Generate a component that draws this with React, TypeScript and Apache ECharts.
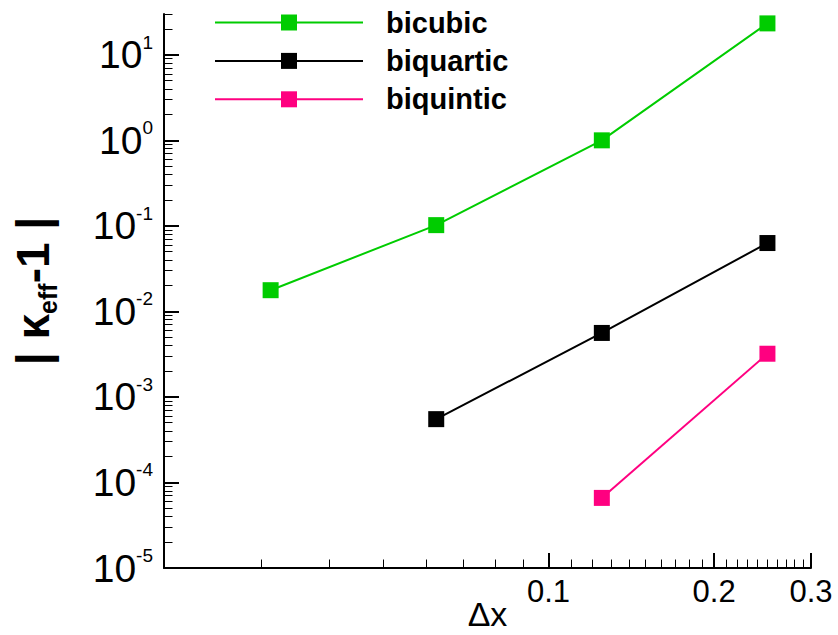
import { useEffect, useRef } from 'react';
import * as echarts from 'echarts';

const seriesNames = ['bicubic', 'biquartic', 'biquintic'];
const seriesColors = ['#00cc00', '#000000', '#ff0080'];

const bicubicX = [0.03125, 0.0625, 0.125, 0.25];
const bicubicY = [0.0177, 0.102, 1.0, 23.3];
const biquarticX = [0.0625, 0.125, 0.25];
const biquarticY = [0.00055, 0.0056, 0.063];
const biquinticX = [0.125, 0.25];
const biquinticY = [0.000066, 0.0032];

const xMajorTicks = [0.1, 0.2, 0.3];
const xMinorTicks = [
  0.03, 0.04, 0.05, 0.06, 0.07, 0.08, 0.09,
  0.11, 0.12, 0.13, 0.14, 0.15, 0.16, 0.17, 0.18, 0.19,
  0.21, 0.22, 0.23, 0.24, 0.25, 0.26, 0.27, 0.28, 0.29,
];
const yMajorTicks = [1e-5, 1e-4, 1e-3, 1e-2, 1e-1, 1, 10];
const yMinorTicks = [
  2e-5, 3e-5, 4e-5, 5e-5, 6e-5, 7e-5, 8e-5, 9e-5,
  2e-4, 3e-4, 4e-4, 5e-4, 6e-4, 7e-4, 8e-4, 9e-4,
  2e-3, 3e-3, 4e-3, 5e-3, 6e-3, 7e-3, 8e-3, 9e-3,
  0.02, 0.03, 0.04, 0.05, 0.06, 0.07, 0.08, 0.09,
  0.2, 0.3, 0.4, 0.5, 0.6, 0.7, 0.8, 0.9,
  2, 3, 4, 5, 6, 7, 8, 9,
  20, 30,
];

const X_MIN = 0.02;
const X_MAX = 0.3;
const Y_MIN = 1e-5;
const Y_MAX = 30;

const FONT = '"Liberation Sans", Arial, Helvetica, sans-serif';

function zip(xs: number[], ys: number[]) {
  return xs.map((x, i) => [x, ys[i]]);
}

export default function App() {
  const ref = useRef<HTMLDivElement>(null);

  useEffect(() => {
    document.body.style.margin = '0';
    if (!ref.current) return;
    const chart = echarts.init(ref.current, undefined, { renderer: 'svg' });

    const seriesData = [zip(bicubicX, bicubicY), zip(biquarticX, biquarticY), zip(biquinticX, biquinticY)];

    const option: any = {
      animation: false,
      backgroundColor: '#ffffff',
      textStyle: { fontFamily: FONT },
      grid: { left: 164, right: 27, top: 14, bottom: 67, containLabel: false, outerBoundsMode: 'none' },
      legend: {
        orient: 'vertical',
        left: 214,
        top: 8,
        padding: 0,
        itemWidth: 148,
        itemHeight: 20,
        itemGap: 9.4,
        data: seriesNames,
        textStyle: {
          fontFamily: FONT,
          fontSize: 29,
          fontWeight: 'bold',
          color: '#000',
          padding: [0, 0, 0, 18],
        },
      },
      xAxis: [
        {
          type: 'log',
          min: X_MIN,
          max: X_MAX,
          position: 'bottom',
          axisLine: { show: true, lineStyle: { color: '#000', width: 2 } },
          axisTick: { show: true, inside: true, length: 15, lineStyle: { color: '#000', width: 2 }, customValues: xMajorTicks },
          axisLabel: {
            show: true,
            customValues: xMajorTicks,
            formatter: (v: number) => String(parseFloat(Number(v).toPrecision(3))),
            fontFamily: FONT,
            fontSize: 31,
            color: '#000',
            margin: 8,
          },
          splitLine: { show: false },
          minorTick: { show: false },
          minorSplitLine: { show: false },
          name: 'Δx',
          nameLocation: 'middle',
          nameGap: 29,
          nameMoveOverlap: false,
          nameTextStyle: { fontFamily: FONT, fontSize: 34, lineHeight: 34, color: '#000' },
        },
        {
          type: 'log',
          min: X_MIN,
          max: X_MAX,
          position: 'bottom',
          axisLine: { show: false },
          axisTick: { show: true, inside: true, length: 8.5, lineStyle: { color: '#000', width: 1 }, customValues: xMinorTicks },
          axisLabel: { show: false },
          splitLine: { show: false },
        },
      ],
      yAxis: [
        {
          type: 'log',
          min: Y_MIN,
          max: Y_MAX,
          position: 'left',
          axisLine: { show: true, lineStyle: { color: '#000', width: 2 } },
          axisTick: { show: true, inside: true, length: 15, lineStyle: { color: '#000', width: 2 }, customValues: yMajorTicks },
          axisLabel: {
            show: true,
            customValues: yMajorTicks,
            margin: 11,
            formatter: (v: number) => {
              const e = Math.round(Math.log10(v));
              return `{b|10}{s|${e}}`;
            },
            rich: {
              b: { fontFamily: FONT, fontSize: 39, lineHeight: 44, color: '#000' },
              s: { fontFamily: FONT, fontSize: 19, lineHeight: 28, verticalAlign: 'top', color: '#000' },
            },
          },
          splitLine: { show: false },
          minorTick: { show: false },
          minorSplitLine: { show: false },
          name: '{m||}{m| κ}{sub|eff}{m|-1 |}',
          nameLocation: 'middle',
          nameRotate: 90,
          nameGap: 104,
          nameMoveOverlap: false,
          nameTextStyle: {
            fontFamily: FONT,
            color: '#000',
            rich: {
              m: { fontFamily: FONT, fontSize: 46, fontWeight: 'bold', lineHeight: 55, color: '#000' },
              sub: { fontFamily: FONT, fontSize: 25, fontWeight: 'bold', lineHeight: 8, verticalAlign: 'bottom', color: '#000' },
            },
          },
        },
        {
          type: 'log',
          min: Y_MIN,
          max: Y_MAX,
          position: 'left',
          axisLine: { show: false },
          axisTick: { show: true, inside: true, length: 8.5, lineStyle: { color: '#000', width: 1 }, customValues: yMinorTicks },
          axisLabel: { show: false },
          splitLine: { show: false },
        },
      ],
      series: seriesNames.map((name, i) => ({
        name,
        type: 'line',
        xAxisIndex: 0,
        yAxisIndex: 0,
        data: seriesData[i],
        symbol: 'rect',
        symbolSize: 16,
        showAllSymbol: true,
        lineStyle: { color: seriesColors[i], width: 2 },
        itemStyle: { color: seriesColors[i] },
        emphasis: { disabled: true },
        z: 3,
      })),
    };

    chart.setOption(option);
    return () => {
      chart.dispose();
    };
  }, []);

  return <div ref={ref} style={{ width: 838, height: 635 }} />;
}
